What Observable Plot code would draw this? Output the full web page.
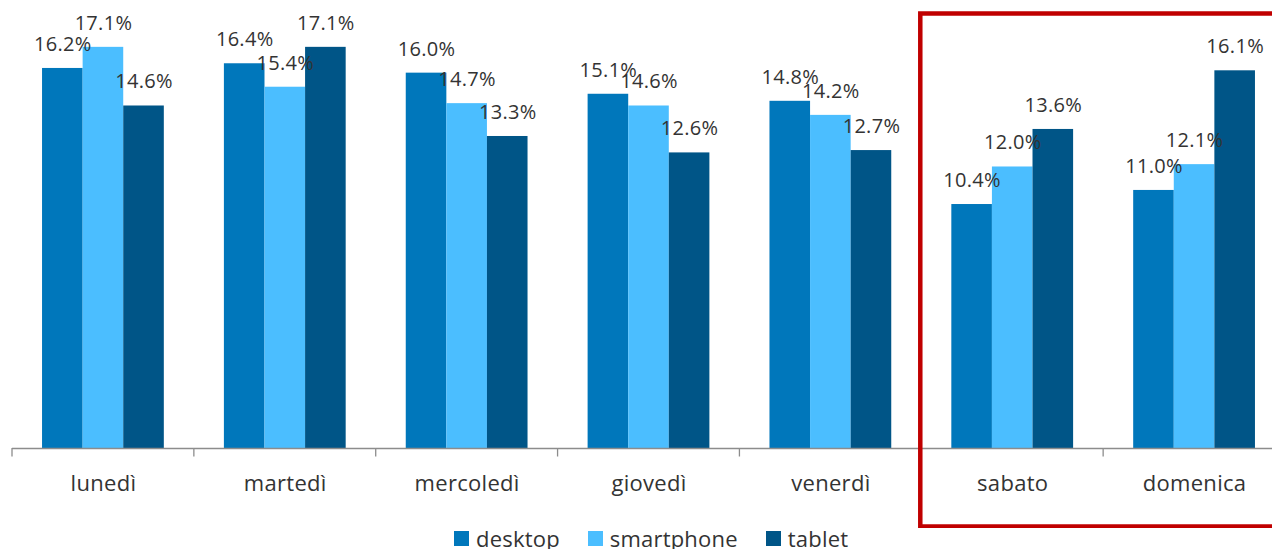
<!DOCTYPE html>
<html><head><meta charset="utf-8">
<script src="https://cdn.jsdelivr.net/npm/d3@7"></script>
<script src="https://cdn.jsdelivr.net/npm/@observablehq/plot@0.6"></script>
<style>
body{margin:0;background:#fff;font-family:"Open Sans",sans-serif;}
#chart{width:1272px;overflow:hidden;line-height:0;}
#legend{display:flex;align-items:center;height:22px;margin-top:-1px;padding-left:454px;font-size:22px;line-height:22px;color:#333;letter-spacing:0.2px;white-space:nowrap;}
.item{display:flex;align-items:center;margin-right:28px}
.sw{width:15px;height:15px;margin-right:7px}
</style></head><body>
<div id="chart"></div><div id="legend"></div>
<script>
const days = ["lunedì","martedì","mercoledì","giovedì","venerdì","sabato","domenica"];
const devices = ["desktop","smartphone","tablet"];
const desktop = [16.2, 16.4, 16.0, 15.1, 14.8, 10.4, 11.0];
const smartphone = [17.1, 15.4, 14.7, 14.6, 14.2, 12.0, 12.1];
const tablet = [14.6, 17.1, 13.3, 12.6, 12.7, 13.6, 16.1];
const colors = ["#0077BB", "#4BBEFF", "#005587"];
const highlighted = ["sabato", "domenica"];

const series = {desktop, smartphone, tablet};
const data = days.flatMap((d, i) => devices.map(dev => ({day: d, device: dev, value: series[dev][i]})));

const H = 528;
const chart = Plot.plot({
  width: 1285, height: H,
  marginLeft: 12, marginRight: 0, marginTop: 14, marginBottom: 80,
  style: {fontFamily: "Open Sans", fontSize: "22px", maxWidth: "none", overflow: "visible", color: "#333", background: "white"},
  fx: {domain: days, padding: 0, round: false, label: null},
  x: {domain: devices, paddingInner: 0, paddingOuter: 0.74, round: false, axis: null},
  y: {domain: [0, 18.5], axis: null},
  color: {domain: devices, range: colors},
  marks: [
    Plot.barY(data, {fx: "day", x: "device", y: "value", fill: "device"}),
    Plot.ruleY([0], {stroke: "#8c8c8c", strokeWidth: 1.3}),
    Plot.text(data, {fx: "day", x: "device", y: "value", text: d => d.value.toFixed(1) + "%", dy: -24, fontSize: 20, fill: "#333"}),
    Plot.axisFx({anchor: "bottom", tickSize: 0, tickPadding: 27, fontSize: 22, label: null})
  ]
});
document.getElementById("chart").appendChild(chart);

// boundary ticks and highlight box from Plot's own scales
const fxScale = chart.scale("fx"), yScale = chart.scale("y");
const bw = fxScale.bandwidth;
const yBase = yScale.apply(0);
const edges = days.map(d => fxScale.apply(d)).concat([fxScale.apply(days[days.length - 1]) + bw]);
const svgSel = d3.select(chart);
svgSel.selectAll("text").style("letter-spacing", "0.3px");
svgSel.append("g").attr("stroke", "#8c8c8c").attr("stroke-width", 1.3)
  .selectAll("line").data(edges).join("line")
  .attr("x1", d => d).attr("x2", d => d).attr("y1", yBase).attr("y2", yBase + 8.5);
const yTop = Math.min(...yScale.range);
const hx0 = fxScale.apply(highlighted[0]);
const hx1 = fxScale.apply(highlighted[highlighted.length - 1]) + bw;
svgSel.append("rect")
  .attr("x", hx0 - 1).attr("y", yTop - 0.5)
  .attr("width", hx1 - hx0 + 10).attr("height", H - 1.5 - (yTop - 0.5))
  .attr("fill", "none").attr("stroke", "#C00000").attr("stroke-width", 4.5);

const legendSel = d3.select("#legend");
devices.forEach((dev, i) => {
  const it = legendSel.append("div").attr("class", "item");
  it.append("div").attr("class", "sw").style("background", colors[i]);
  it.append("span").text(dev);
});
</script>
</body></html>
